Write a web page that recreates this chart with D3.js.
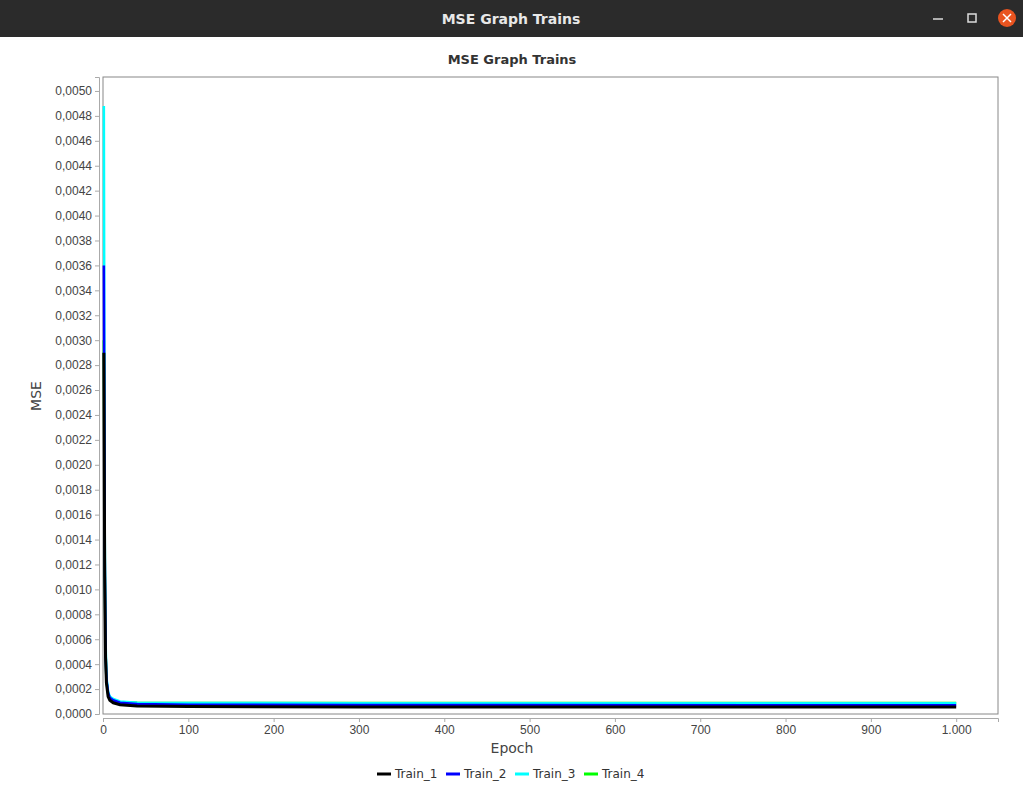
<!DOCTYPE html>
<html><head><meta charset="utf-8">
<script src="https://cdn.jsdelivr.net/npm/d3@7"></script>
<style>
body{margin:0;background:#fff;font-family:"DejaVu Sans",sans-serif;}
</style></head><body>
<svg id="c" width="1023" height="799"></svg>
<script>
const epochs = [1, 2, 3, 4, 6, 8, 12, 20, 40, 100, 300, 1000];
const train1 = [0.0029, 0.0011, 0.00045, 0.00025, 0.00014, 0.00011, 0.00009, 0.000075, 0.000065, 0.00006, 0.000057, 0.000056];
const train2 = [0.0036, 0.0013, 0.0005, 0.00028, 0.00017, 0.00013, 0.00011, 0.00009, 0.00008, 0.000075, 0.000072, 0.00007];
const train3 = [0.00488, 0.0015, 0.0006, 0.0003, 0.00018, 0.00014, 0.00012, 0.0001, 0.00009, 0.000088, 0.000087, 0.000086];
const train4 = [0.0030, 0.0012, 0.0005, 0.00027, 0.00016, 0.00013, 0.00011, 0.000095, 0.00009, 0.000089, 0.000088, 0.000088];
const names = ['Train_1', 'Train_2', 'Train_3', 'Train_4'];
const colors = ['#000000', '#0000ff', '#00ffff', '#00ff00'];
const xTicks = d3.range(0, 1001, 100);
const yTicks = d3.range(0, 26).map(i => i * 0.0002);

const svg = d3.select('#c');
// window title bar
svg.append('rect').attr('width', 1023).attr('height', 37).attr('fill', '#2b2b2b');
svg.append('text').attr('x', 511).attr('y', 24).attr('text-anchor', 'middle')
  .attr('fill', '#e8e8e8').attr('font-size', 14).attr('font-weight', 'bold').text('MSE Graph Trains');
svg.append('line').attr('x1', 933).attr('x2', 943).attr('y1', 19).attr('y2', 19).attr('stroke', '#ddd').attr('stroke-width', 1.5);
svg.append('rect').attr('x', 968).attr('y', 14).attr('width', 8).attr('height', 8).attr('fill', 'none').attr('stroke', '#ddd').attr('stroke-width', 1.5);
svg.append('circle').attr('cx', 1007).attr('cy', 18).attr('r', 9).attr('fill', '#e95420');
svg.append('path').attr('d', 'M1003,14L1011,22M1011,14L1003,22').attr('stroke', '#fff').attr('stroke-width', 1.5);

svg.append('text').attr('x', 512).attr('y', 64).attr('text-anchor', 'middle')
  .attr('font-size', 13).attr('font-weight', 'bold').attr('fill', '#333').text('MSE Graph Trains');

const L = 103, R = 998, T = 77, B = 714;
const x = d3.scaleLinear().domain([0, 1049]).range([L, R]);
const y = d3.scaleLinear().domain([0, 0.005112]).range([B, T]);

svg.append('rect').attr('x', L).attr('y', T).attr('width', R - L).attr('height', B - T)
  .attr('fill', '#fff').attr('stroke', '#888');

const fmt = d => d3.format('.4f')(d).replace('.', ',');
const yAxis = svg.append('g').attr('transform', `translate(${L - 4},0)`)
  .call(d3.axisLeft(y).tickValues(yTicks).tickFormat(fmt).tickSize(4));
const xAxis = svg.append('g').attr('transform', `translate(0,${B + 4})`)
  .call(d3.axisBottom(x).tickValues(xTicks).tickFormat(d => d === 1000 ? '1.000' : d).tickSize(4));
[xAxis, yAxis].forEach(a => {
  a.selectAll('path,line').attr('stroke', '#aaa');
  a.selectAll('text').attr('fill', '#444').attr('font-size', 12);
});

svg.append('text').attr('x', 512).attr('y', 753).attr('text-anchor', 'middle')
  .attr('font-size', 14).attr('fill', '#444').text('Epoch');
svg.append('text').attr('transform', 'translate(41,396) rotate(-90)').attr('text-anchor', 'middle')
  .attr('font-size', 14).attr('fill', '#444').text('MSE');

const line = d3.line().x((d, i) => x(epochs[i])).y(d => y(d));
const series = [train1, train2, train3, train4];
[3, 2, 1, 0].forEach(k => {
  svg.append('path').datum(series[k]).attr('d', line).attr('fill', 'none')
    .attr('stroke', colors[k]).attr('stroke-width', k === 0 ? 3 : 2.5);
});

const leg = svg.append('g').attr('transform', 'translate(377,774)');
let off = 0;
names.forEach((n, i) => {
  const g = leg.append('g').attr('transform', `translate(${off},0)`);
  g.append('line').attr('x1', 0).attr('x2', 14).attr('stroke', colors[i]).attr('stroke-width', 3);
  g.append('text').attr('x', 18).attr('y', 4).attr('font-size', 12).attr('fill', '#333').text(n);
  off += 69;
});
</script></body></html>
